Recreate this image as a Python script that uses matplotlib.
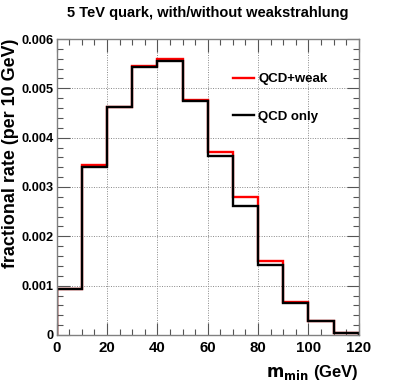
import matplotlib
matplotlib.use("Agg")
import matplotlib.pyplot as plt
import numpy as np
from matplotlib.ticker import MultipleLocator, FuncFormatter

plt.rcParams['font.family'] = ['Liberation Sans', 'DejaVu Sans']
plt.rcParams['font.weight'] = 'bold'

bin_edges = [0, 10, 20, 30, 40, 50, 60, 70, 80, 90, 100, 110, 120]
qcd_weak = [0.00094, 0.00345, 0.00462, 0.00546, 0.00560, 0.00477, 0.00370, 0.00280, 0.00150, 0.00066, 0.00029, 0.00005]
qcd_only = [0.00093, 0.00341, 0.00462, 0.00543, 0.00555, 0.00474, 0.00362, 0.00262, 0.00142, 0.00064, 0.00029, 0.00004]

fig = plt.figure(figsize=(3.99, 3.85), dpi=100)
ax = fig.add_axes([0.142, 0.1299, 0.757, 0.7688])

ax.stairs(qcd_weak, bin_edges, color='#ff0000', lw=1.7, label='QCD+weak', baseline=0)
ax.stairs(qcd_only, bin_edges, color='black', lw=1.7, label='QCD only', baseline=0)

ax.set_xlim(0, 120)
ax.set_ylim(0, 0.006)
ax.xaxis.set_major_locator(MultipleLocator(20))
ax.xaxis.set_minor_locator(MultipleLocator(5))
ax.yaxis.set_major_locator(MultipleLocator(0.001))
ax.yaxis.set_minor_locator(MultipleLocator(0.0002))
ax.yaxis.set_major_formatter(FuncFormatter(lambda v, p: '0' if abs(v) < 1e-9 else f'{v:.3f}'))

ax.tick_params(which='both', direction='in', top=True, right=True, color='#555555')
ax.tick_params(which='major', length=9, width=0.8)
ax.tick_params(which='minor', length=4.5, width=0.8)
ax.tick_params(axis='x', which='major', labelsize=10.8, pad=4)
ax.tick_params(axis='y', which='major', labelsize=9.2, pad=2)
for lab in ax.get_xticklabels() + ax.get_yticklabels():
    lab.set_fontweight('bold')

for s in ax.spines.values():
    s.set_color('#808080')
    s.set_linewidth(1.0)

ax.grid(True, which='major', linestyle=(0, (1, 1.5)), color='#888888', linewidth=0.7)
ax.set_axisbelow(True)

ax.set_title('5 TeV quark, with/without weakstrahlung', fontsize=10.5, fontweight='bold', pad=16)
ax.set_xlabel(r'$\mathbf{m_{min}}$ (GeV)', fontsize=12, fontweight='bold', loc='right', labelpad=6)
ax.set_ylabel('fractional rate (per 10 GeV)', fontsize=12.9, fontweight='bold', loc='top', labelpad=2)

leg = ax.legend(loc='upper left', bbox_to_anchor=(0.545, 0.925), frameon=False, fontsize=9.5,
                handlelength=1.6, handletextpad=0.3, labelspacing=1.9)

fig.savefig('out.png', dpi=100)
